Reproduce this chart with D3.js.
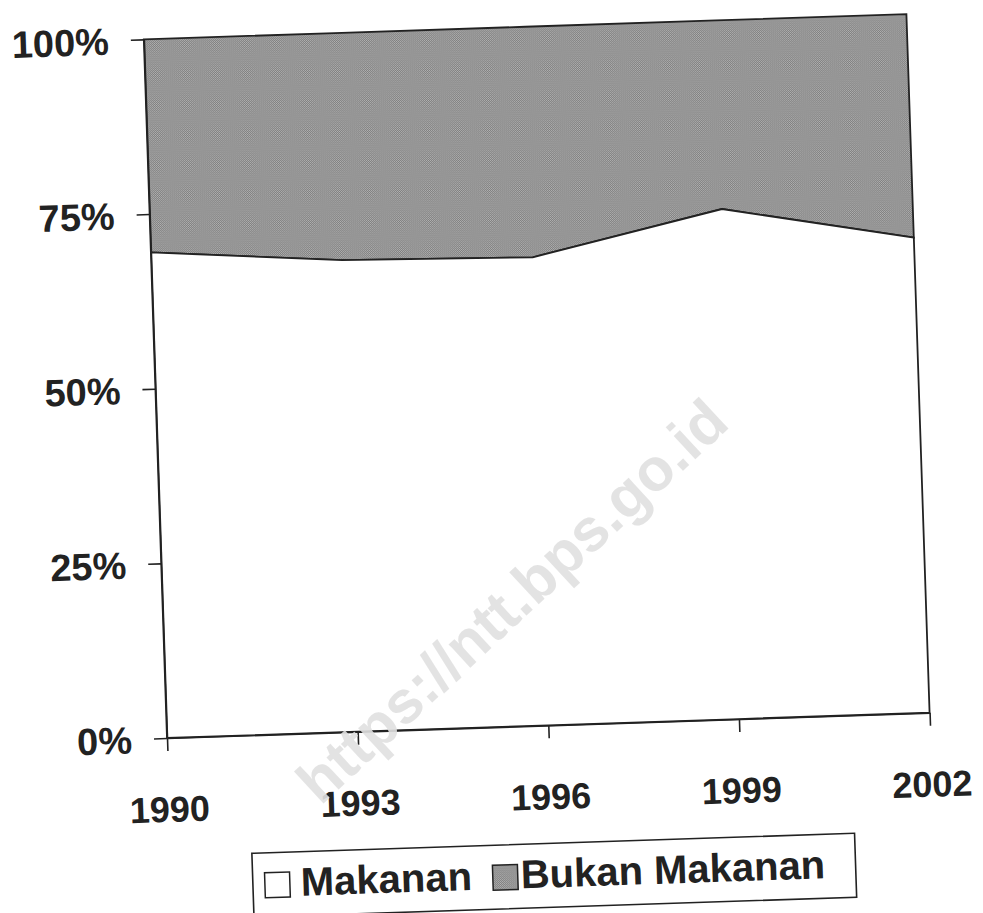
<!DOCTYPE html>
<html>
<head>
<meta charset="utf-8">
<script src="https://cdn.jsdelivr.net/npm/d3@7"></script>
<style>
  html, body { margin: 0; padding: 0; background: #fff; }
  svg { display: block; }
</style>
</head>
<body>
<svg id="chart" width="983" height="913"></svg>
<script>
// ---- data ----
const years = ["1990", "1993", "1996", "1999", "2002"];
const makanan = [69.5, 67.5, 67.0, 73.0, 68.0];
const bukanMakanan = [30.5, 32.5, 33.0, 27.0, 32.0];
const yTicks = [0, 25, 50, 75, 100];
const seriesNames = ["Makanan", "Bukan Makanan"];
const watermark = "https://ntt.bps.go.id";

// ---- layout ----
const W = 763, H = 699;
const FONT = "'Liberation Sans', Arial, Helvetica, sans-serif";
const INK = "#222";

const svg = d3.select("#chart");
svg.append("rect").attr("width", 983).attr("height", 913).attr("fill", "#fff");

// dotted gray fill like the scanned print
const defs = svg.append("defs");
const pat = defs.append("pattern").attr("id", "dots")
  .attr("patternUnits", "userSpaceOnUse").attr("width", 2).attr("height", 2);
pat.append("rect").attr("width", 2).attr("height", 2).attr("fill", "#7e7e7e");
pat.append("rect").attr("x", 0).attr("y", 0).attr("width", 1).attr("height", 1).attr("fill", "#b3b3b3");
pat.append("rect").attr("x", 1).attr("y", 1).attr("width", 1).attr("height", 1).attr("fill", "#a8a8a8");

// whole chart is slightly rotated (scanned page)
const g = svg.append("g")
  .attr("transform", `translate(167,738) rotate(-1.9) translate(0,${-H})`);

const x = d3.scalePoint().domain(years).range([0, W]);
const y = d3.scaleLinear().domain([0, 100]).range([H, 0]);

const rows = years.map((yr, i) => ({ year: yr, makanan: makanan[i], bukan: bukanMakanan[i] }));
const stacked = d3.stack().keys(["makanan", "bukan"])(rows);

const area = d3.area()
  .x(d => x(d.data.year))
  .y0(d => y(d[0]))
  .y1(d => y(d[1]));

const fills = { makanan: "#ffffff", bukan: "url(#dots)" };

g.selectAll("path.layer")
  .data(stacked.slice().reverse())
  .join("path")
  .attr("class", "layer")
  .attr("d", area)
  .attr("fill", d => fills[d.key])
  .attr("stroke", INK)
  .attr("stroke-width", 1.8)
  .attr("stroke-linejoin", "miter");

// Y axis
const yAxis = g.append("g")
  .call(d3.axisLeft(y).tickValues(yTicks).tickFormat(d => d + "%")
    .tickSize(13).tickSizeOuter(0).tickPadding(22));
yAxis.select(".domain").attr("stroke", INK).attr("stroke-width", 1.6);
yAxis.selectAll(".tick line").attr("stroke", INK).attr("stroke-width", 1.6);
yAxis.selectAll(".tick text")
  .attr("font-family", FONT).attr("font-weight", "bold").attr("font-size", 38)
  .attr("fill", INK).attr("dy", "0.36em");

// X axis
const xAxis = g.append("g").attr("transform", `translate(0,${H})`)
  .call(d3.axisBottom(x).tickSize(13).tickSizeOuter(0));
xAxis.select(".domain").attr("stroke", INK).attr("stroke-width", 1.6);
xAxis.selectAll(".tick line").attr("stroke", INK).attr("stroke-width", 1.6);
xAxis.selectAll(".tick text")
  .attr("font-family", FONT).attr("font-weight", "bold").attr("font-size", 36)
  .attr("fill", INK).attr("y", 84).attr("dy", 0);

// Legend
const lg = g.append("g").attr("transform", `translate(0,${H})`);
lg.append("rect").attr("x", 81).attr("y", 118).attr("width", 603).attr("height", 64)
  .attr("fill", "#fff").attr("stroke", INK).attr("stroke-width", 1.6);
const legendItems = [
  { name: seriesNames[0], fill: fills.makanan, sx: 93, tx: 129 },
  { name: seriesNames[1], fill: fills.bukan, sx: 321, tx: 349 }
];
legendItems.forEach(it => {
  lg.append("rect").attr("x", it.sx).attr("y", 138).attr("width", 25).attr("height", 25)
    .attr("fill", it.fill).attr("stroke", INK).attr("stroke-width", 1.5);
  lg.append("text").attr("x", it.tx).attr("y", 162)
    .attr("font-family", FONT).attr("font-weight", "bold").attr("font-size", 40)
    .attr("fill", INK).text(it.name);
});

// watermark overlay
svg.append("text")
  .attr("transform", "translate(512,601) rotate(-42.8)")
  .attr("text-anchor", "middle").attr("dominant-baseline", "central")
  .attr("font-family", FONT).attr("font-weight", "bold").attr("font-size", 60)
  .attr("fill", "#e0e0e0").attr("fill-opacity", 0.9)
  .text(watermark);
</script>
</body>
</html>
